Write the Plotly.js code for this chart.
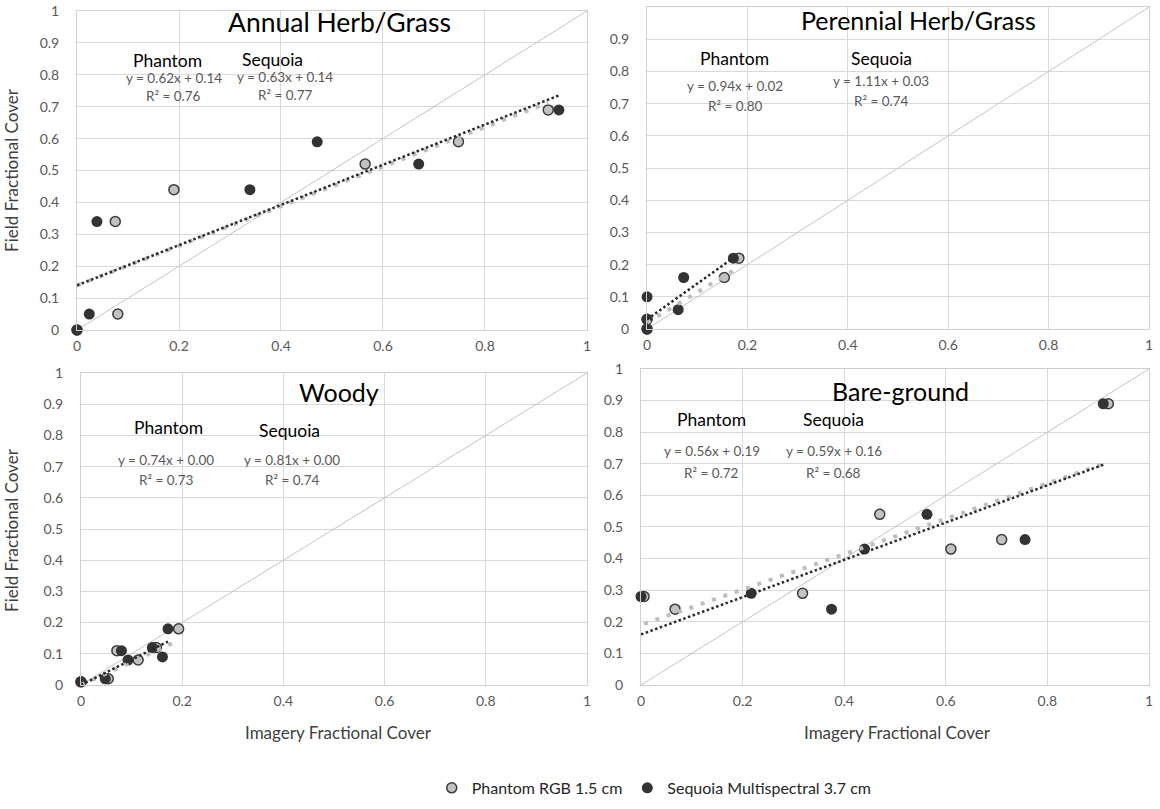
<!DOCTYPE html>
<html>
<head>
<meta charset="utf-8">
<script src="https://cdn.plot.ly/plotly-3.0.1.min.js"></script>
<style>html,body{margin:0;padding:0;background:#fff;}#chart{width:1160px;height:809px;}</style>
</head>
<body>
<div id="chart"></div>
<script>
// ---- data ----
const panelTitles = ["Annual Herb/Grass", "Perennial Herb/Grass", "Woody", "Bare-ground"];
const seriesNames = ["Phantom RGB 1.5 cm", "Sequoia Multispectral 3.7 cm"];

const annualPhantomX = [0, 0.08, 0.075, 0.19, 0.565, 0.748, 0.924];
const annualPhantomY = [0, 0.05, 0.34, 0.44, 0.52, 0.59, 0.69];
const annualSequoiaX = [0, 0.024, 0.039, 0.339, 0.471, 0.67, 0.945];
const annualSequoiaY = [0, 0.05, 0.34, 0.44, 0.59, 0.52, 0.69];

const perennialPhantomX = [0, 0, 0.154, 0.183];
const perennialPhantomY = [0, 0.03, 0.16, 0.22];
const perennialSequoiaX = [0, 0, 0, 0.062, 0.073, 0.172];
const perennialSequoiaY = [0, 0.03, 0.10, 0.06, 0.16, 0.22];

const woodyPhantomX = [0, 0.054, 0.071, 0.113, 0.149, 0.193];
const woodyPhantomY = [0.01, 0.02, 0.11, 0.08, 0.12, 0.18];
const woodySequoiaX = [0, 0.048, 0.08, 0.093, 0.141, 0.161, 0.172];
const woodySequoiaY = [0.01, 0.02, 0.11, 0.08, 0.12, 0.09, 0.18];

const barePhantomX = [0.006, 0.067, 0.318, 0.47, 0.61, 0.71, 0.92];
const barePhantomY = [0.28, 0.24, 0.29, 0.54, 0.43, 0.46, 0.89];
const bareSequoiaX = [0, 0.217, 0.375, 0.44, 0.563, 0.756, 0.91];
const bareSequoiaY = [0.28, 0.29, 0.24, 0.43, 0.54, 0.46, 0.89];

// trendline equations as printed on the chart
const phantomSlope = [0.62, 0.94, 0.74, 0.56];
const phantomIntercept = [0.14, 0.02, 0.00, 0.19];
const phantomR2 = ["0.76", "0.80", "0.73", "0.72"];
const sequoiaSlope = [0.63, 1.11, 0.81, 0.59];
const sequoiaIntercept = [0.14, 0.03, 0.00, 0.16];
const sequoiaR2 = ["0.77", "0.74", "0.74", "0.68"];

const oneToOne = [0, 1];
const xTickVals = [0, 0.2, 0.4, 0.6, 0.8, 1];
const xTickText = ["0", "0.2", "0.4", "0.6", "0.8", "1"];
const yTickVals = [0, 0.1, 0.2, 0.3, 0.4, 0.5, 0.6, 0.7, 0.8, 0.9, 1];
const yTickText = ["0", "0.1", "0.2", "0.3", "0.4", "0.5", "0.6", "0.7", "0.8", "0.9", "1"];

// ---- build ----
const phantomData = [[annualPhantomX, annualPhantomY], [perennialPhantomX, perennialPhantomY], [woodyPhantomX, woodyPhantomY], [barePhantomX, barePhantomY]];
const sequoiaData = [[annualSequoiaX, annualSequoiaY], [perennialSequoiaX, perennialSequoiaY], [woodySequoiaX, woodySequoiaY], [bareSequoiaX, bareSequoiaY]];

const FONT = "Lato, 'Open Sans', sans-serif";
const traces = [];
const fmt = v => v.toFixed(2);

function trend(xs, m, b) {
  const lo = Math.min(...xs), hi = Math.max(...xs);
  return {x: [lo, hi], y: [m * lo + b, m * hi + b]};
}

for (let i = 0; i < 4; i++) {
  const ax = i === 0 ? "" : String(i + 1);
  const xa = "x" + ax, ya = "y" + ax;
  traces.push({x: oneToOne, y: oneToOne, xaxis: xa, yaxis: ya, mode: "lines",
    line: {color: "#c4c4c4", width: 1}, showlegend: false, hoverinfo: "skip"});
  traces.push({x: phantomData[i][0], y: phantomData[i][1], xaxis: xa, yaxis: ya, mode: "markers",
    name: seriesNames[0], legendgroup: "p", showlegend: i === 0, cliponaxis: false,
    marker: {size: 10, color: "#c2c2c2", line: {color: "#3c3c3c", width: 1.5}}});
  traces.push({x: sequoiaData[i][0], y: sequoiaData[i][1], xaxis: xa, yaxis: ya, mode: "markers",
    name: seriesNames[1], legendgroup: "s", showlegend: i === 0, cliponaxis: false,
    marker: {size: 11, color: "#333333", line: {color: "#333333", width: 0}}});
  const tp = trend(phantomData[i][0], phantomSlope[i], phantomIntercept[i]);
  traces.push({x: tp.x, y: tp.y, xaxis: xa, yaxis: ya, mode: "lines", showlegend: false, hoverinfo: "skip",
    cliponaxis: false, line: {color: "#bdbdbd", width: 4, dash: "4px,8px"}});
  const ts = trend(sequoiaData[i][0], sequoiaSlope[i], sequoiaIntercept[i]);
  traces.push({x: ts.x, y: ts.y, xaxis: xa, yaxis: ya, mode: "lines", showlegend: false, hoverinfo: "skip",
    cliponaxis: false, line: {color: "#2a2a2a", width: 2.5, dash: "2.5px,2.5px"}});
}

const domains = [
  {x: [0.0664, 0.5060], y: [0.5921, 0.9864]},
  {x: [0.5578, 0.9905], y: [0.5933, 0.9913]},
  {x: [0.0698, 0.5060], y: [0.1533, 0.5389]},
  {x: [0.5526, 0.9905], y: [0.1533, 0.5439]}
];

const layout = {
  width: 1160, height: 809,
  margin: {l: 0, r: 0, t: 0, b: 0},
  paper_bgcolor: "#ffffff", plot_bgcolor: "#ffffff",
  font: {family: FONT, color: "#595959", size: 12},
  showlegend: true,
  legend: {orientation: "h", x: 0.564, xanchor: "center", y: 0.026, yanchor: "middle",
    font: {family: FONT, size: 16, color: "#262626"}, itemwidth: 30, tracegroupgap: 0},
  annotations: []
};

for (let i = 0; i < 4; i++) {
  const ax = i === 0 ? "" : String(i + 1);
  const common = {range: [0, 1], showgrid: true, gridcolor: "#d9d9d9", gridwidth: 1,
    zeroline: false, showline: true, linecolor: "#d0d0d0", linewidth: 1, mirror: true,
    ticks: "", tickfont: {family: FONT, size: 14, color: "#595959"}, fixedrange: true};
  layout["xaxis" + ax] = Object.assign({}, common, {domain: domains[i].x, anchor: "y" + ax,
    tickvals: xTickVals, ticktext: xTickText, ticklabelstandoff: 3});
  layout["yaxis" + ax] = Object.assign({}, common, {domain: domains[i].y, anchor: "x" + ax,
    tickvals: yTickVals, ticktext: yTickText, ticklabelstandoff: 14});
}

// text positions per panel (data coords)
const titlePos = [[0.515, 0.965], [0.54, 0.96], [0.51, 0.94], [0.51, 0.93]];
const titleSize = [26.5, 25, 25, 25];
const phLabel = [[0.178, 0.845], [0.175, 0.84], [0.173, 0.825], [0.138, 0.84]];
const phEq = [[0.19, 0.79], [0.176, 0.755], [0.169, 0.722], [0.139, 0.74]];
const phR = [[0.19, 0.734], [0.176, 0.694], [0.169, 0.657], [0.139, 0.672]];
const sqLabel = [[0.384, 0.847], [0.467, 0.84], [0.413, 0.817], [0.379, 0.84]];
const sqEq = [[0.408, 0.792], [0.467, 0.77], [0.418, 0.722], [0.379, 0.74]];
const sqR = [[0.408, 0.736], [0.467, 0.708], [0.418, 0.657], [0.379, 0.672]];

for (let i = 0; i < 4; i++) {
  const ax = i === 0 ? "" : String(i + 1);
  const xr = "x" + ax, yr = "y" + ax;
  const A = (p, text, size, color) => layout.annotations.push({xref: xr, yref: yr, x: p[0], y: p[1],
    text: text, showarrow: false, xanchor: "center", yanchor: "middle",
    font: {family: FONT, size: size, color: color}});
  A(titlePos[i], panelTitles[i], titleSize[i], "#000000");
  A(phLabel[i], "Phantom", 17.5, "#000000");
  A(sqLabel[i], "Sequoia", 17.5, "#000000");
  A(phEq[i], "y = " + fmt(phantomSlope[i]) + "x + " + fmt(phantomIntercept[i]), 13.5, "#595959");
  A(phR[i], "R² = " + phantomR2[i], 13.5, "#595959");
  A(sqEq[i], "y = " + fmt(sequoiaSlope[i]) + "x + " + fmt(sequoiaIntercept[i]), 13.5, "#595959");
  A(sqR[i], "R² = " + sequoiaR2[i], 13.5, "#595959");
}

// axis titles
const axTitleFont = {family: FONT, size: 17, color: "#404040"};
layout.annotations.push({xref: "paper", yref: "paper", x: 12 / 1160, y: 0.79, text: "Field Fractional Cover",
  textangle: -90, showarrow: false, xanchor: "center", yanchor: "middle", font: axTitleFont});
layout.annotations.push({xref: "paper", yref: "paper", x: 12 / 1160, y: 0.345, text: "Field Fractional Cover",
  textangle: -90, showarrow: false, xanchor: "center", yanchor: "middle", font: axTitleFont});
layout.annotations.push({xref: "paper", yref: "paper", x: 338 / 1160, y: 0.094, text: "Imagery Fractional Cover",
  showarrow: false, xanchor: "center", yanchor: "middle", font: axTitleFont});
layout.annotations.push({xref: "paper", yref: "paper", x: 897 / 1160, y: 0.094, text: "Imagery Fractional Cover",
  showarrow: false, xanchor: "center", yanchor: "middle", font: axTitleFont});

Plotly.newPlot("chart", traces, layout, {displayModeBar: false, staticPlot: true});
</script>
</body>
</html>
